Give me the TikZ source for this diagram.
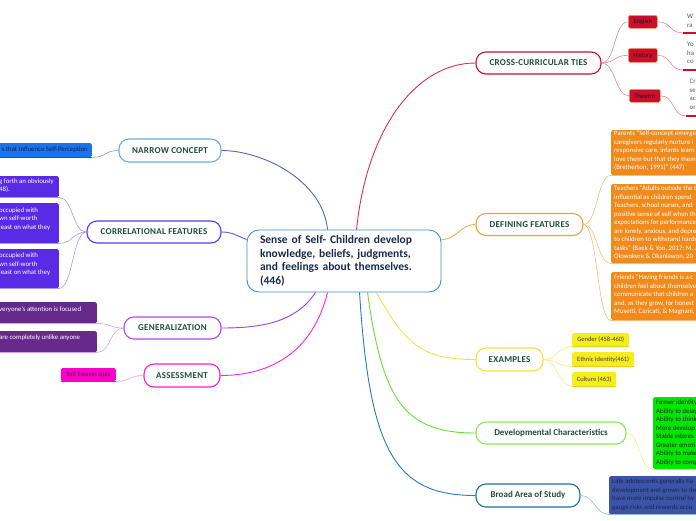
\documentclass[tikz,border=0pt]{standalone}
\usepackage{fontspec}
\setmainfont{Carlito}
\newfontfamily\capsfont[LetterSpace=3]{Carlito}
\usetikzlibrary{calc}
\definecolor{labelgreen}{HTML}{1F4D3D}
\definecolor{centralblue}{HTML}{3A8FD0}
\definecolor{centraltext}{HTML}{1B2A4E}
\definecolor{crossb}{HTML}{C8102E}
\definecolor{crossline}{HTML}{D8304E}
\definecolor{crossleaf}{HTML}{E68496}
\definecolor{crossfill}{HTML}{C8102E}
\definecolor{crossedge}{HTML}{F3A25A}
\definecolor{crosstext}{HTML}{3D0A12}
\definecolor{defb}{HTML}{F5A040}
\definecolor{defline}{HTML}{F6AE55}
\definecolor{defleaf}{HTML}{F8BC78}
\definecolor{deffill}{HTML}{F08A1C}
\definecolor{exb}{HTML}{F4E23C}
\definecolor{exline}{HTML}{F2E24A}
\definecolor{exleaf}{HTML}{F6EA7A}
\definecolor{exfill}{HTML}{F7EC1E}
\definecolor{exunder}{HTML}{E6D414}
\definecolor{devb}{HTML}{8CE84E}
\definecolor{devline}{HTML}{66E030}
\definecolor{devleaf}{HTML}{EEF27A}
\definecolor{devfill}{HTML}{00E600}
\definecolor{broadb}{HTML}{1E6FA8}
\definecolor{broadline}{HTML}{2A78B8}
\definecolor{broadleaf}{HTML}{8CBCE8}
\definecolor{broadfill}{HTML}{3B55A6}
\definecolor{broadtext}{HTML}{1A2450}
\definecolor{narb}{HTML}{6AAEDC}
\definecolor{narline}{HTML}{5566B5}
\definecolor{narleaf}{HTML}{8A98E4}
\definecolor{narfill}{HTML}{1A73E8}
\definecolor{nartext}{HTML}{14224A}
\definecolor{corrb}{HTML}{5B3BEE}
\definecolor{corrline}{HTML}{7050F0}
\definecolor{corrleaf}{HTML}{A898F5}
\definecolor{corrfill}{HTML}{5A2BE6}
\definecolor{genb}{HTML}{B347F0}
\definecolor{genline}{HTML}{A040E0}
\definecolor{genleaf}{HTML}{D8A0F0}
\definecolor{genfill}{HTML}{662A8C}
\definecolor{assb}{HTML}{FF1ADF}
\definecolor{assline}{HTML}{FF22DD}
\definecolor{assleaf}{HTML}{FF90E8}
\definecolor{assfill}{HTML}{FF00CC}
\definecolor{grtext}{HTML}{555555}
\begin{document}
\begin{tikzpicture}[x=1pt,y=-1pt,
  branch/.style={draw, line width=1.1pt, fill=white, rounded corners=10pt, inner sep=0pt, font=\capsfont\bfseries\fontsize{9}{10}\selectfont, text=labelgreen},
  branchm/.style={branch, font=\bfseries\fontsize{9}{10}\selectfont},
  leafbox/.style={inner sep=0pt, anchor=north west, rounded corners=1.5pt, font=\fontsize{6.5}{7.5}\selectfont},
  ltext/.style={inner sep=0pt, anchor=north west, align=left, font=\fontsize{6.8}{8.5}\selectfont},
  conn/.style={line width=0.9pt},
  sub/.style={line width=0.6pt},
  uline/.style={line width=1.5pt}]
\path[use as bounding box] (0,0) rectangle (696,520);
\clip (0,0) rectangle (696,520);

% ---------- central ----------
\node[draw=centralblue, line width=0.9pt, fill=white, rounded corners=12pt, minimum width=194pt, minimum height=62pt, inner xsep=13pt, inner ysep=0pt, text width=168pt, align=left, font=\bfseries\fontsize{11.5}{13.5}\selectfont, text=centraltext] (c) at (344,261)
  {Sense of Self- Children develop\\knowledge, beliefs, judgments,\\and feelings about themselves.\\(446)};

% ---------- branches ----------
\node[branch, draw=crossb, minimum width=125pt, minimum height=22pt] (cross) at (538.5,63) {CROSS-CURRICULAR TIES};
\node[branch, draw=defb, minimum width=107pt, minimum height=22pt] (def) at (529.5,224.5) {DEFINING FEATURES};
\node[branch, draw=exb, minimum width=67pt, minimum height=23pt] (ex) at (509.5,359.5) {EXAMPLES};
\node[branchm, draw=devb, minimum width=150pt, minimum height=22pt] (dev) at (551,433) {Developmental Characteristics};
\node[branchm, draw=broadb, minimum width=104pt, minimum height=23pt] (broad) at (528,495.5) {Broad Area of Study};
\node[branch, draw=narb, minimum width=102pt, minimum height=23pt] (nar) at (170,150.5) {NARROW CONCEPT};
\node[branch, draw=corrb, minimum width=134pt, minimum height=22pt] (corr) at (154,232) {CORRELATIONAL FEATURES};
\node[branch, draw=genb, minimum width=97pt, minimum height=22pt] (gen) at (172.5,328) {GENERALIZATION};
\node[branch, draw=assb, minimum width=76pt, minimum height=23pt] (ass) at (182,375.5) {ASSESSMENT};

% ---------- central connectors ----------
\draw[conn, crossline] ($(c.north west)+(110,0)$) .. controls +(10,-100) and +(-60,0) .. (cross.west);
\draw[conn, defline] ($(c.north east)+(0,10)$) .. controls +(15,0) and +(-15,0) .. (def.west);
\draw[conn, exline] ($(c.south west)+(130,0)$) .. controls +(30,55) and +(-50,0) .. (ex.west);
\draw[conn, devline] ($(c.south west)+(121,0)$) .. controls +(15,110) and +(-70,0) .. (dev.west);
\draw[conn, broadline] ($(c.south west)+(113,0)$) .. controls +(10,160) and +(-80,0) .. (broad.west);
\draw[conn, narline] ($(c.north west)+(81,0)$) .. controls +(-5,-50) and +(40,0) .. (nar.east);
\draw[conn, corrline] ($(c.north west)+(0,10)$) .. controls +(-12,-5) and +(10,0) .. (corr.east);
\draw[conn, genline] ($(c.south west)+(69,0)$) .. controls +(-20,30) and +(40,0) .. (gen.east);
\draw[conn, assline] ($(c.south west)+(81,0)$) .. controls +(-15,60) and +(50,0) .. (ass.east);

% ---------- cross-curricular leaves ----------
\node[leafbox, fill=crossfill, draw=crossedge, line width=0.6pt, minimum width=29pt, minimum height=13pt, text=crosstext] (eng) at (628,15) {English};
\node[leafbox, fill=crossfill, draw=crossedge, line width=0.6pt, minimum width=29pt, minimum height=14pt, text=crosstext] (hist) at (628,48) {History};
\node[leafbox, fill=crossfill, draw=crossedge, line width=0.6pt, minimum width=31pt, minimum height=13pt, text=crosstext] (thea) at (629,89) {Theatre};
\draw[sub, crossleaf] (cross.east) .. controls +(14,0) and +(-14,0) .. (eng.west);
\draw[sub, crossleaf] (cross.east) .. controls +(14,0) and +(-14,0) .. (hist.west);
\draw[sub, crossleaf] (cross.east) .. controls +(14,0) and +(-14,0) .. (thea.west);
\coordinate (ueng) at (683,33);
\coordinate (uhist) at (683,70);
\coordinate (uthea) at (686,116);
\coordinate (eeng) at (700,33);
\coordinate (ehist) at (700,70);
\coordinate (ethea) at (700,116);
\draw[sub, crossleaf] (eng.east) .. controls +(14,0) and +(-14,0) .. (ueng);
\draw[sub, crossleaf] (hist.east) .. controls +(14,0) and +(-14,0) .. (uhist);
\draw[sub, crossleaf] (thea.east) .. controls +(14,0) and +(-14,0) .. (uthea);
\draw[uline, crossb] (ueng) -- (eeng);
\draw[uline, crossb] (uhist) -- (ehist);
\draw[uline, crossb] (uthea) -- (ethea);
\node[ltext, text=grtext] (teng) at (687,14) {W\\ra};
\node[ltext, text=grtext] (thist) at (687,42) {Yo\\ha\\co};
\node[ltext, text=grtext] (tthea) at (689.5,79) {Cr\\se\\ac\\or};

% ---------- defining features leaves ----------
\node[leafbox, fill=deffill, minimum width=100pt, minimum height=45pt] (d1) at (611,130) {};
\node[leafbox, fill=deffill, minimum width=100pt, minimum height=79pt] (d2) at (611,184) {};
\node[leafbox, fill=deffill, minimum width=100pt, minimum height=48pt] (d3) at (611,272) {};
\draw[sub, defleaf] (def.east) .. controls +(14,0) and +(-14,0) .. (d1.south west);
\draw[sub, defleaf] (def.east) .. controls +(14,0) and +(-14,0) .. (d2.south west);
\draw[sub, defleaf] (def.east) .. controls +(14,0) and +(-14,0) .. (d3.south west);
\draw[sub, defleaf] (d1.south west) -- (d1.south east);
\draw[sub, defleaf] (d2.south west) -- (d2.south east);
\draw[sub, defleaf] (d3.south west) -- (d3.south east);
\node[ltext, text=white] (td1) at (614,130.5) {Parents “Self-concept emerge\\caregivers regularly nurture i\\responsive care, infants learn\\love them but that they them\\(Bretherton, 1991)” (447)};
\node[ltext, text=white] (td2) at (614,185.5) {Teachers “Adults outside the t\\influential as children spend\\Teachers, school nurses, and\\positive sense of self when th\\expectations for performance\\are lonely, anxious, and depre\\to children to withstand hards\\tasks” (Baek \& Yoo, 2017; M. J\\Olowokere \& Okanlawon, 20};
\node[ltext, text=white] (td3) at (614,274.5) {Friends “Having friends is a c\\children feel about themselve\\communicate that children a\\and, as they grow, for honest\\Musetti, Caricati, \& Magnani, 2};

% ---------- examples leaves ----------
\node[leafbox, fill=exfill, minimum width=57pt, minimum height=13pt, text=black!75] (x1) at (572,333) {Gender (458-460)};
\node[leafbox, fill=exfill, minimum width=62pt, minimum height=14pt, text=black!75] (x2) at (572,352) {Ethnic Identity(461)};
\node[leafbox, fill=exfill, minimum width=44pt, minimum height=14pt, text=black!75] (x3) at (572,372) {Culture (463)};
\draw[sub, exleaf] (ex.east) .. controls +(14,0) and +(-14,0) .. (x1.south west);
\draw[sub, exleaf] (ex.east) .. controls +(14,0) and +(-14,0) .. (x2.south west);
\draw[sub, exleaf] (ex.east) .. controls +(14,0) and +(-14,0) .. (x3.south west);
\draw[uline, exunder, line width=1pt] (x1.south west) -- (x1.south east);
\draw[uline, exunder, line width=1pt] (x2.south west) -- (x2.south east);
\draw[uline, exunder, line width=1pt] (x3.south west) -- (x3.south east);

% ---------- developmental leaf ----------
\node[leafbox, fill=devfill, minimum width=60pt, minimum height=72pt] (gr) at (653,397) {};
\draw[sub, devleaf] (dev.east) .. controls +(14,0) and +(-14,0) .. (gr.south west);
\draw[sub, devleaf] (gr.south west) -- (gr.south east);
\node[ltext, text=black!85] (tgr) at (656,400) {Firmer identity\\Ability to delay\\Ability to think\\More develop\\Stable interes\\Greater emoti\\Ability to make\\Ability to comp};

% ---------- broad leaf ----------
\node[leafbox, fill=broadfill, minimum width=100pt, minimum height=38pt] (bl) at (609,476) {};
\draw[sub, broadleaf] (broad.east) .. controls +(14,0) and +(-14,0) .. (bl.south west);
\draw[sub, broadleaf] (bl.south west) -- (bl.south east);
\node[ltext, text=broadtext] (tbl) at (612,479) {Late adolescents generally ha\\development and grown to the\\have more impulse control by\\gauge risks and rewards accu};

% ---------- narrow leaf ----------
\node[leafbox, anchor=north east, fill=narfill, minimum width=100pt, minimum height=14pt] (nl) at (92,143) {};
\draw[sub, narleaf] (nar.west) .. controls +(-14,0) and +(14,0) .. (nl.south east);
\draw[uline, narfill!80!black, line width=1pt] (nl.south west) -- (nl.south east);
\node[inner sep=0pt, anchor=east, font=\fontsize{6.8}{8}\selectfont, text=nartext] (tnl) at (88,150) {s that Influence Self-Perception};

% ---------- correlational leaves ----------
\node[leafbox, anchor=north east, fill=corrfill, minimum width=70pt, minimum height=21pt] (c1) at (59,176) {};
\node[leafbox, anchor=north east, fill=corrfill, minimum width=70pt, minimum height=40pt] (c2) at (59,203) {};
\node[leafbox, anchor=north east, fill=corrfill, minimum width=70pt, minimum height=39pt] (c3) at (59,249) {};
\draw[sub, corrleaf] (corr.west) .. controls +(-14,0) and +(14,0) .. (c1.south east);
\draw[sub, corrleaf] (corr.west) .. controls +(-14,0) and +(14,0) .. (c2.south east);
\draw[sub, corrleaf] (corr.west) .. controls +(-14,0) and +(14,0) .. (c3.south east);
\draw[sub, corrleaf] (c1.south west) -- (c1.south east);
\draw[sub, corrleaf] (c2.south west) -- (c2.south east);
\draw[sub, corrleaf] (c3.south west) -- (c3.south east);
\node[ltext, text=white] (tc1) at (-1,178.5) {g forth an obviously\\48).};
\node[ltext, text=white] (tc2) at (-1,207.5) {occupied with\\wn self-worth\\ least on what they};
\node[ltext, text=white] (tc3) at (-1,253) {occupied with\\wn self-worth\\ least on what they};

% ---------- generalization leaves ----------
\node[leafbox, anchor=north east, fill=genfill, minimum width=105pt, minimum height=21pt] (gl1) at (97,302) {};
\node[leafbox, anchor=north east, fill=genfill, minimum width=105pt, minimum height=21pt] (gl2) at (97,331) {};
\draw[sub, genleaf] (gen.west) .. controls +(-14,0) and +(14,0) .. (gl1.south east);
\draw[sub, genleaf] (gen.west) .. controls +(-14,0) and +(14,0) .. (gl2.south east);
\draw[sub, genleaf] (gl1.south west) -- (gl1.south east);
\draw[sub, genleaf] (gl2.south west) -- (gl2.south east);
\node[ltext, text=white] (tg1) at (-1,306) {veryone’s attention is focused};
\node[ltext, text=white] (tg2) at (-1,335) {are completely unlike anyone};

% ---------- assessment leaf ----------
\node[leafbox, anchor=north east, fill=assfill, minimum width=55pt, minimum height=13pt, text=black!80] (al) at (116,368) {Self Esteem Quiz};
\draw[sub, assleaf] (ass.west) .. controls +(-14,0) and +(14,0) .. (al.south east);
\draw[uline, assfill, line width=1.2pt] (al.south west) -- (al.south east);
\end{tikzpicture}
\end{document}
